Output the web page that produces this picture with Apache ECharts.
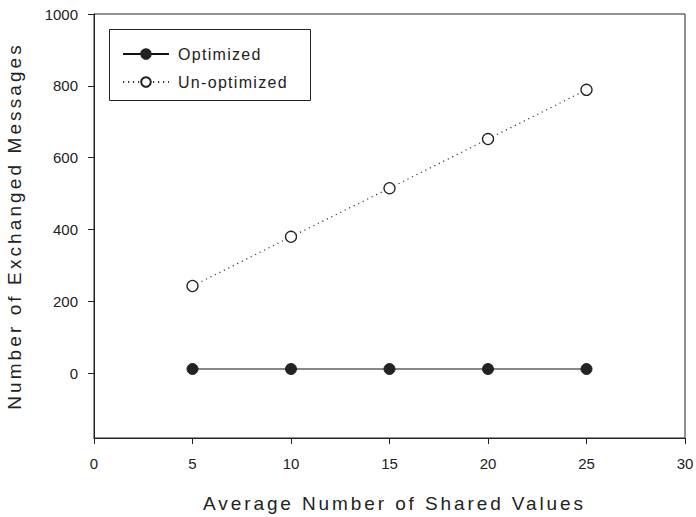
<!DOCTYPE html>
<html><head><meta charset="utf-8">
<script src="https://cdn.jsdelivr.net/npm/echarts@6/dist/echarts.min.js"></script>
<style>html,body{margin:0;padding:0;background:#fff}#c{width:696px;height:517px}</style>
</head><body><div id="c"></div>
<script>
const xValues = [5, 10, 15, 20, 25];
const optimized = [12, 12, 12, 12, 12];
const unoptimized = [243, 380, 515, 652, 789];
const yTicks = [0, 200, 400, 600, 800, 1000];
const xTicks = [0, 5, 10, 15, 20, 25, 30];
const seriesNames = ['Optimized', 'Un-optimized'];
const xTitle = 'Average Number of Shared Values';
const yTitle = 'Number of Exchanged Messages';

// letter spacing (style only) for specific texts
const spacing = {};
spacing[xTitle] = 2.9;
spacing[yTitle] = 3.1;
spacing[seriesNames[0]] = 1.3;
spacing[seriesNames[1]] = 1.3;

const font = 'Liberation Sans, Arial, sans-serif';
const chart = echarts.init(document.getElementById('c'), null, { renderer: 'svg' });
chart.setOption({
  animation: false,
  backgroundColor: '#fff',
  grid: { left: 94, right: 11, top: 14, bottom: 79, outerBoundsMode: 'none', containLabel: false,
    show: true, borderColor: '#222', borderWidth: 1, backgroundColor: 'transparent' },
  xAxis: {
    type: 'value', min: 0, max: 30, interval: 5,
    name: xTitle, nameLocation: 'middle', nameGap: 56,
    nameTextStyle: { fontFamily: font, fontSize: 19, color: '#222', padding: [0, 0, 0, 10] },
    axisLine: { show: true, onZero: false, lineStyle: { color: '#222', width: 1 } },
    axisTick: { show: true, inside: false, length: 6, lineStyle: { color: '#222' } },
    axisLabel: { fontFamily: font, fontSize: 15, color: '#222', margin: 18, formatter: v => String(v) },
    splitLine: { show: false }
  },
  yAxis: {
    type: 'value', min: -180, max: 1000,
    name: yTitle, nameLocation: 'middle', nameGap: 70,
    nameTextStyle: { fontFamily: font, fontSize: 19, color: '#222' },
    axisLine: { show: true, onZero: false, lineStyle: { color: '#222', width: 1 } },
    axisTick: { show: true, inside: false, length: 6, customValues: yTicks, lineStyle: { color: '#222' } },
    axisLabel: { fontFamily: font, fontSize: 15, color: '#222', margin: 16, customValues: yTicks, formatter: v => String(v) },
    splitLine: { show: false }
  },
  graphic: [{
    type: 'rect', left: 109, top: 29, shape: { width: 201, height: 71 },
    style: { fill: 'transparent', stroke: '#222', lineWidth: 1 }, z: 10
  }],
  legend: {
    orient: 'vertical', left: 117, top: 41, itemWidth: 46, itemHeight: 12, itemGap: 12,
    textStyle: { fontFamily: font, fontSize: 16, color: '#222', padding: [0, 0, 0, 4] },
    data: seriesNames
  },
  series: [{
    name: seriesNames[0], type: 'line',
    data: xValues.map((x, i) => [x, optimized[i]]),
    symbol: 'circle', symbolSize: 11,
    lineStyle: { color: '#111', width: 1.1, type: 'solid' },
    itemStyle: { color: '#222', borderColor: '#222', borderWidth: 1 }
  }, {
    name: seriesNames[1], type: 'line',
    data: xValues.map((x, i) => [x, unoptimized[i]]),
    symbol: 'circle', symbolSize: 11,
    lineStyle: { color: '#333', width: 1.2, type: [1.2, 3.8] },
    itemStyle: { color: '#fff', borderColor: '#222', borderWidth: 1.3 }
  }]
});

function applySpacing() {
  document.querySelectorAll('#c text').forEach(function (el) {
    const ls = spacing[el.textContent];
    if (ls) {
      el.setAttribute('letter-spacing', ls);
      el.style.letterSpacing = ls + 'px';
    }
  });
}
applySpacing();
chart.on('finished', applySpacing);
</script></body></html>
